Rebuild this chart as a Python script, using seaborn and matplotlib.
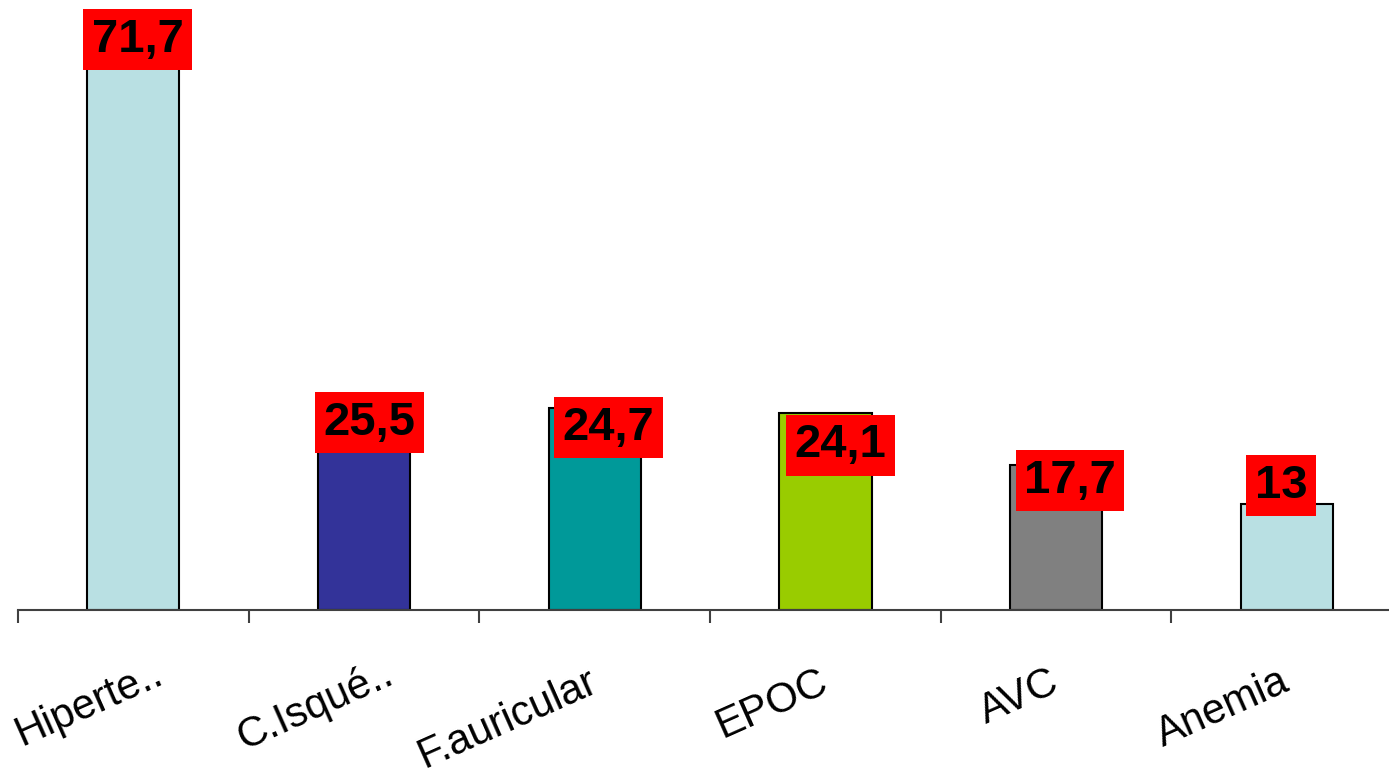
# Comorbilidades - gráfico de barras com rótulos em caixa vermelha
import matplotlib
matplotlib.use("Agg")
import matplotlib.pyplot as plt
import matplotlib.transforms as mtransforms
import seaborn as sns
import pandas as pd

# dados
categorias = ["Hiperte..", "C.Isqué..", "F.auricular", "EPOC", "AVC", "Anemia"]
valores = [71.7, 25.5, 24.7, 24.1, 17.7, 13]
rotulos = ["71,7", "25,5", "24,7", "24,1", "17,7", "13"]
cores = ["#B9E0E3", "#333399", "#009999", "#99CC00", "#808080", "#B9E0E3"]

# deslocamento das caixas de rótulo (pontos) em relação ao topo da barra
desloc_rotulos = [(3, -11), (4, -15), (10, -14), (11, -23), (10, -11), (-4, 13)]

df = pd.DataFrame({"cat": categorias, "val": valores})

sns.set_style("white")
plt.rcParams["font.family"] = ["Liberation Sans", "DejaVu Sans"]

fig = plt.figure(figsize=(13.89, 7.74), dpi=100)
ax = fig.add_axes([18 / 1389, 164 / 774, 1 - 18 / 1389, 610 / 774])

sns.barplot(data=df, x="cat", y="val", hue="cat", palette=cores, legend=False,
            width=0.4, saturation=1, edgecolor="black", linewidth=1.5,
            ax=ax, zorder=2)

ax.set_xlim(-0.5, -0.5 + 1371 / 230.7)
ax.set_ylim(0, 74.7)
ax.set_xlabel("")
ax.set_ylabel("")
ax.set_yticks([])

for s in ["top", "right", "left"]:
    ax.spines[s].set_visible(False)
ax.spines["bottom"].set_color("#404040")
ax.spines["bottom"].set_linewidth(1.5)

# ticks nas fronteiras das categorias
ax.set_xticks([i - 0.5 for i in range(len(categorias))], minor=False)
ax.set_xticklabels([])
ax.tick_params(axis="x", which="major", direction="out", length=9, width=1.5,
               color="#404040", bottom=True)
ax.set_xticks(range(len(categorias)), minor=True)
ax.tick_params(axis="x", which="minor", length=0, pad=0,
               labelsize=30, labelcolor="black")
ax.set_xticklabels(categorias, minor=True, rotation=24,
                   ha="right", va="baseline", rotation_mode="anchor")
for lbl in ax.get_xticklabels(minor=True):
    # rótulos truncados ("..") ficam um pouco mais à direita, como no original
    truncado = lbl.get_text().endswith("..")
    dx = 0.32 if truncado else 0.05
    dy = -0.72 if truncado else -0.80
    off = mtransforms.ScaledTranslation(dx, dy, fig.dpi_scale_trans)
    lbl.set_transform(lbl.get_transform() + off)

# rótulos de valor
for i, (v, t) in enumerate(zip(valores, rotulos)):
    ax.annotate(t, (i, v), xytext=desloc_rotulos[i], textcoords="offset points",
                ha="center", va="center", fontsize=34, fontweight="bold",
                color="black", zorder=5,
                bbox=dict(boxstyle="square,pad=0.18", fc="#FF0000", ec="none"))

fig.savefig("out.png", dpi=100)
